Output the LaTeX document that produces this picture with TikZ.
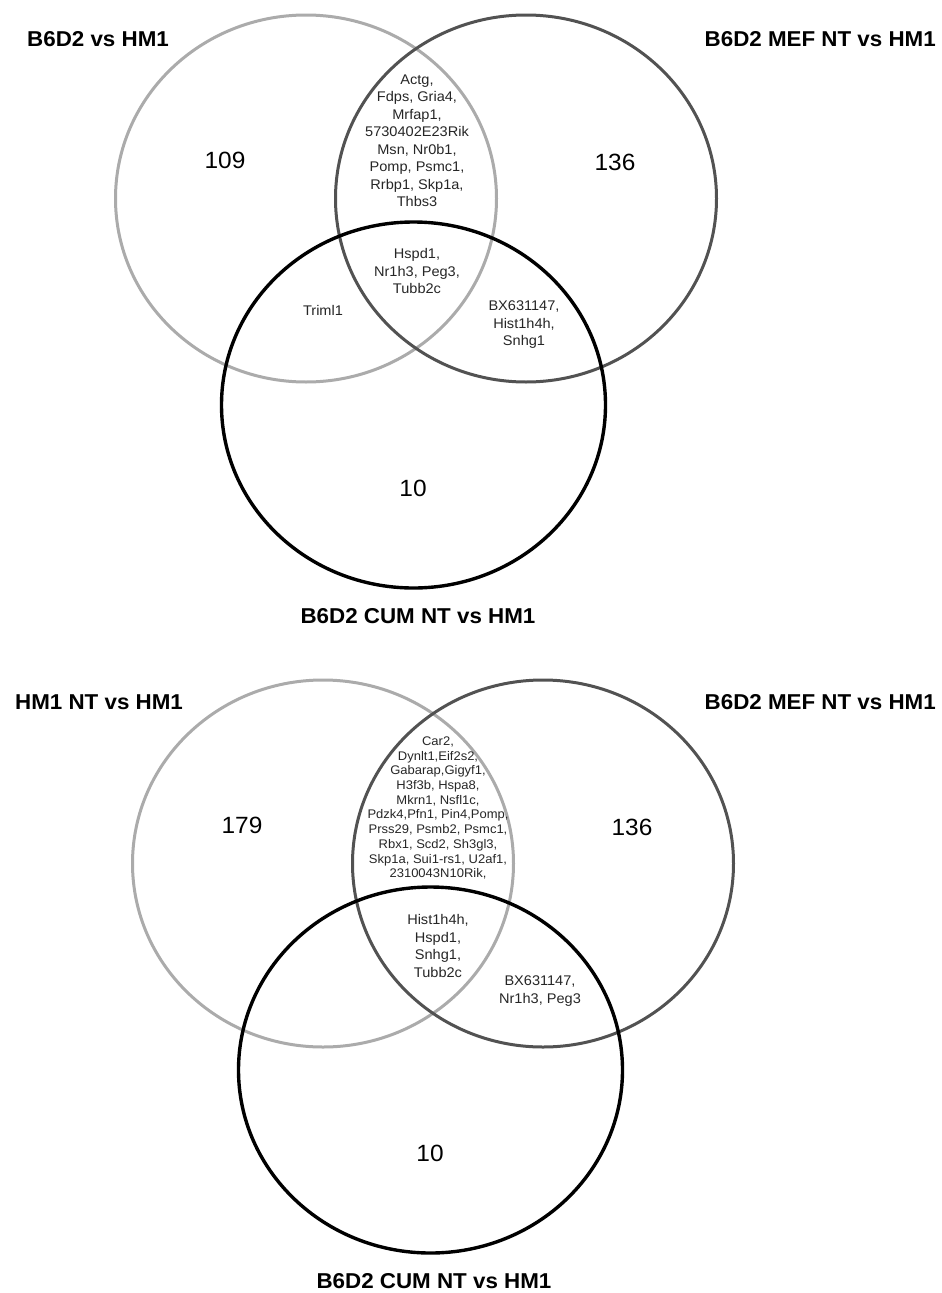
\documentclass[tikz,border=0pt]{standalone}
\usepackage{fontspec}
\setmainfont[FakeStretch=1.04]{Liberation Sans}
\begin{document}
\begin{tikzpicture}[x=1pt, y=-1pt,
    setA/.style={draw=black!33, line width=3pt},
    setB/.style={draw=black!68, line width=3pt},
    setC/.style={draw=black, line width=3.4pt},
    title/.style={font=\fontsize{21.5}{25}\selectfont\bfseries, inner sep=0pt},
    count/.style={font=\fontsize{23.5}{27}\selectfont, inner sep=0pt},
    genes/.style={font=\fontsize{14}{17.5}\selectfont, align=center, text=black!85, inner sep=0pt},
    smallgenes/.style={font=\fontsize{12.5}{14.7}\selectfont, align=center, text=black!85, inner sep=0pt}]

  \useasboundingbox (0,0) rectangle (942,1293);

  % upper diagram
  \coordinate (a1) at (306,198.5);
  \coordinate (b1) at (526,198.5);
  \coordinate (c1) at (413.5,405);
  \draw[setA] (a1) ellipse [x radius=190.5, y radius=183.5];
  \draw[setB] (b1) ellipse [x radius=190.5, y radius=183.5];
  \draw[setC] (c1) ellipse [x radius=192, y radius=183];

  \node[title, anchor=west] (tA1) at (27,39) {B6D2 vs HM1};
  \node[title, anchor=east] (tB1) at (936,39) {B6D2 MEF NT vs HM1};
  \node[title] (tC1) at (418,616) {B6D2 CUM NT vs HM1};

  \node[count] (nA1) at (225,160) {109};
  \node[count] (nB1) at (615,162) {136};
  \node[count] (nC1) at (413,488) {10};

  \node[genes] (gAB1) at (417,140.5) {Actg,\\Fdps, Gria4,\\Mrfap1,\\5730402E23Rik\\Msn, Nr0b1,\\Pomp, Psmc1,\\Rrbp1, Skp1a,\\Thbs3};
  \node[genes] (gABC1) at (417,271) {Hspd1,\\Nr1h3, Peg3,\\Tubb2c};
  \node[genes] (gAC1) at (323,310) {Triml1};
  \node[genes] (gBC1) at (524,325) {BX631147,\\Hist1h4h,\\Snhg1};

  % lower diagram
  \coordinate (a2) at (323,863.5);
  \coordinate (b2) at (543,863.5);
  \coordinate (c2) at (430.5,1070);
  \draw[setA] (a2) ellipse [x radius=190.5, y radius=183.5];
  \draw[setB] (b2) ellipse [x radius=190.5, y radius=183.5];
  \draw[setC] (c2) ellipse [x radius=192, y radius=183];

  \node[title, anchor=west] (tA2) at (15,702) {HM1 NT vs HM1};
  \node[title, anchor=east] (tB2) at (936,702) {B6D2 MEF NT vs HM1};
  \node[title] (tC2) at (434,1281) {B6D2 CUM NT vs HM1};

  \node[count] (nA2) at (242,825) {179};
  \node[count] (nB2) at (632,827) {136};
  \node[count] (nC2) at (430,1153) {10};

  \node[smallgenes] (gAB2) at (438,808) {Car2,\\Dynlt1,Eif2s2,\\Gabarap,Gigyf1,\\H3f3b, Hspa8,\\Mkrn1, Nsfl1c,\\Pdzk4,Pfn1, Pin4,Pomp,\\Prss29, Psmb2, Psmc1,\\Rbx1, Scd2, Sh3gl3,\\Skp1a, Sui1-rs1, U2af1,\\2310043N10Rik,};
  \node[genes] (gABC2) at (438,946) {Hist1h4h,\\Hspd1,\\Snhg1,\\Tubb2c};
  \node[genes] (gBC2) at (540,991) {BX631147,\\Nr1h3, Peg3};

\end{tikzpicture}
\end{document}
